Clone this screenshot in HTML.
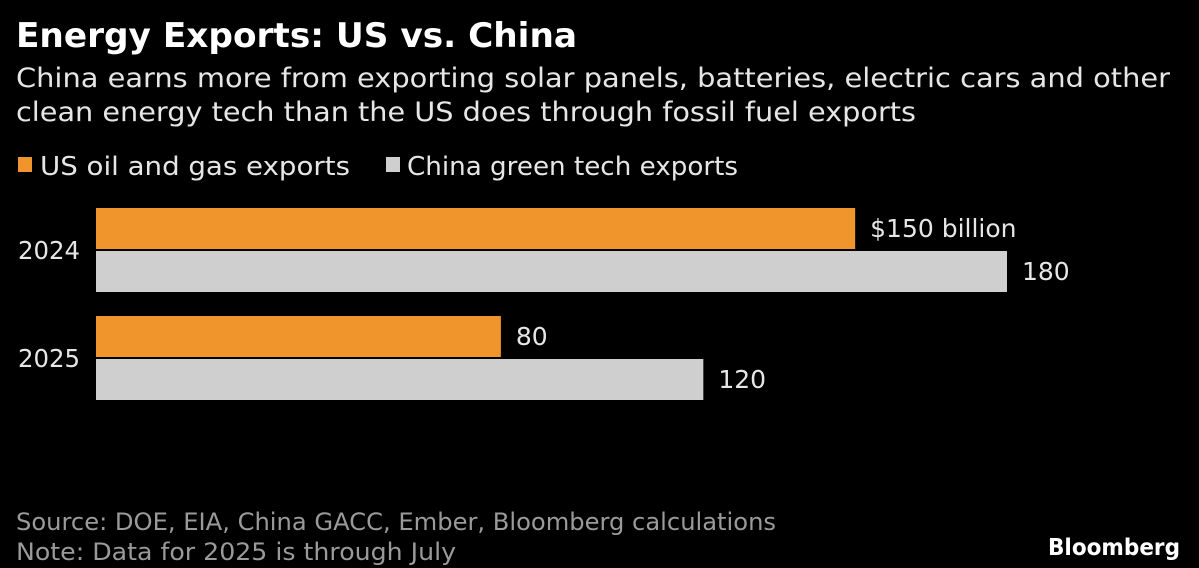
<!DOCTYPE html>
<html><head><meta charset="utf-8"><style>
html,body{margin:0;padding:0;background:#000;width:1199px;height:568px;overflow:hidden}
svg{display:block;font-family:"DejaVu Sans","Liberation Sans",sans-serif}
</style></head><body>
<svg id="chart" width="1199" height="568" viewBox="0 0 1199 568">
<rect width="1199" height="568" fill="#000"/>
<text x="16" y="47" font-size="34" font-weight="bold" fill="#fff" textLength="561" lengthAdjust="spacingAndGlyphs">Energy Exports: US vs. China</text>
<text x="16" y="87" font-size="27" fill="#e6e6e6" textLength="1154" lengthAdjust="spacingAndGlyphs">China earns more from exporting solar panels, batteries, electric cars and other</text>
<text x="16" y="121" font-size="27" fill="#e6e6e6" textLength="900" lengthAdjust="spacingAndGlyphs">clean energy tech than the US does through fossil fuel exports</text>
<rect x="18" y="157" width="14" height="15" fill="#f0952b"/>
<text x="40" y="175" font-size="26" fill="#e6e6e6" textLength="310" lengthAdjust="spacingAndGlyphs">US oil and gas exports</text>
<rect x="386" y="157" width="14" height="15" fill="#cfcfcf"/>
<text x="407" y="175" font-size="26" fill="#e6e6e6" textLength="331" lengthAdjust="spacingAndGlyphs">China green tech exports</text>
<g id="bars"></g>
<text x="16" y="530" font-size="24" fill="#9a9a9a" textLength="760" lengthAdjust="spacingAndGlyphs">Source: DOE, EIA, China GACC, Ember, Bloomberg calculations</text>
<text x="16" y="560" font-size="24" fill="#9a9a9a" textLength="440" lengthAdjust="spacingAndGlyphs">Note: Data for 2025 is through July</text>
<text x="1048" y="555" font-size="23" font-weight="bold" fill="#fff" textLength="132" lengthAdjust="spacingAndGlyphs">Bloomberg</text>
</svg>
<script>
const categories = ["2024", "2025"];
const usValues = [150, 80];
const chinaValues = [180, 120];
const valueLabelsUS = ["$150 billion", "80"];
const valueLabelsChina = ["180", "120"];

const x0 = 96, pxPerUnit = 911 / 180;
function xScale(v){ return x0 + v * pxPerUnit; }
const groupTop = [208, 316];
const barH = 41, gap = 2;
const g = document.getElementById('bars');
const NS = 'http://www.w3.org/2000/svg';
function mk(tag, attrs){ const e=document.createElementNS(NS,tag); for(const k in attrs) e.setAttribute(k,attrs[k]); return e; }
categories.forEach((c,i)=>{
  const y1 = groupTop[i], y2 = y1 + barH + gap;
  const b1 = mk('rect',{x:x0,y:y1,width:xScale(usValues[i])-x0,height:barH,fill:'#f0952b'});
  
  
  g.appendChild(b1);
  const b2 = mk('rect',{x:x0,y:y2,width:xScale(chinaValues[i])-x0,height:barH,fill:'#cfcfcf'});
  
  
  g.appendChild(b2);
  const yl = mk('text',{x:18,y:y1+barH+10,'font-size':25,fill:'#e6e6e6',textLength:62,lengthAdjust:'spacingAndGlyphs'});
  yl.textContent = c;
  
  
  g.appendChild(yl);
  const l1 = mk('text',{x:xScale(usValues[i])+15,y:y1+29,'font-size':25,fill:'#e6e6e6'});
  l1.textContent = valueLabelsUS[i];
  
  
  g.appendChild(l1);
  const l2 = mk('text',{x:xScale(chinaValues[i])+15,y:y2+29,'font-size':25,fill:'#e6e6e6'});
  l2.textContent = valueLabelsChina[i];
  
  
  g.appendChild(l2);
});
</script>
</body></html>
